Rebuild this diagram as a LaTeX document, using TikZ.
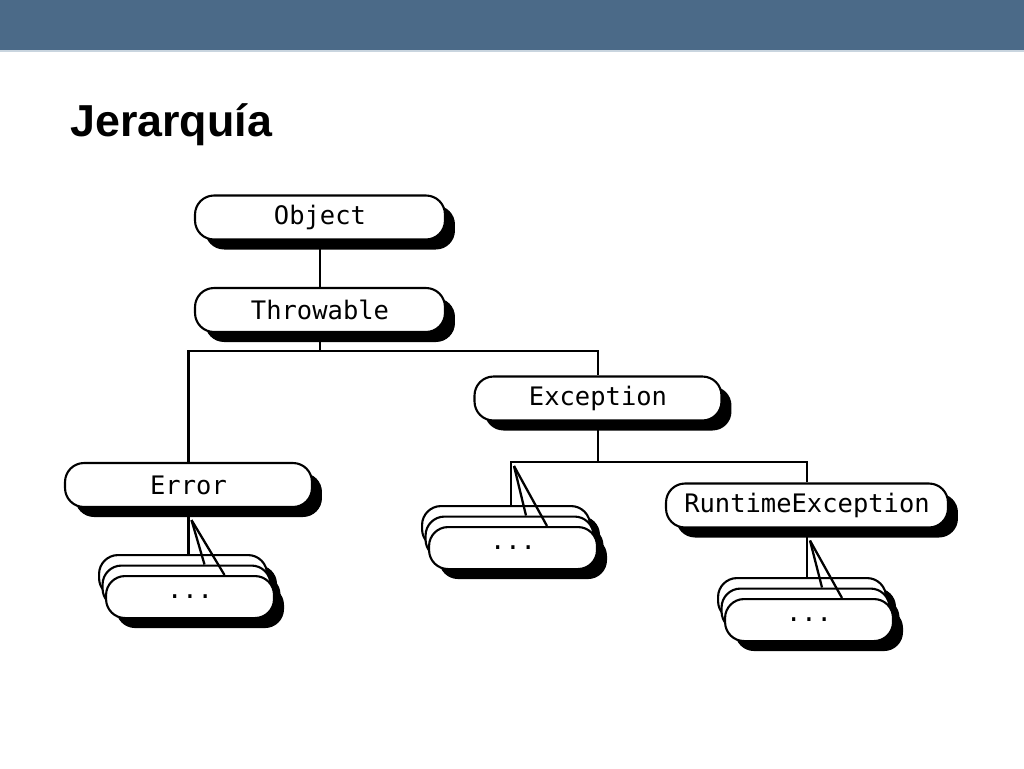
\documentclass[tikz,border=0pt]{standalone}
\usepackage{fontspec}
\setmainfont{Liberation Sans}
\setmonofont{DejaVu Sans Mono}
\usepackage{xcolor}
\usepackage{tikz}
\usetikzlibrary{calc,shadows}

\definecolor{barblue}{HTML}{4B6A88}
\definecolor{barline}{HTML}{C9D5DF}

\tikzset{
  cls/.style={draw, line width=1.2pt, fill=white, rounded corners=0.38cm,
    minimum height=0.88cm, inner sep=0pt,
    font=\ttfamily\fontsize{14.5}{16}\selectfont,
    drop shadow={shadow xshift=0.2cm, shadow yshift=-0.2cm, fill=black, opacity=1}},
  stk/.style={cls, minimum width=3.36cm, minimum height=0.84cm},
  link/.style={line width=1.3pt},
}

% three capsules, one behind the other: name, x, y of the back one
\newcommand{\dotstack}[3]{%
  \node[stk, anchor=north west] (#1-a) at (#2,#3) {};
  \node[stk, anchor=north west] (#1-b) at ($(#2,#3)+(3.5,10.5)$) {};
  \node[stk, anchor=north west] (#1-c) at ($(#2,#3)+(7,21)$) {...};
}

\begin{document}
\begin{tikzpicture}[x=0.02cm, y=-0.02cm]
    \useasboundingbox (0,0) rectangle (1024,768);

    % header bar
    \fill[barblue] (0,0) rectangle (1024,50);
    \fill[barline] (0,50) rectangle (1024,52);

    % title
    \node[anchor=base west, inner sep=0pt,
      font=\bfseries\fontsize{25.5}{30}\selectfont] (title) at (70,136) {Jerarquía};

    % classes
    \node[cls, minimum width=5cm] (obj) at (320,217.5) {Object};
    \node[cls, minimum width=5cm] (thr) at (320,310) {Throwable};
    \node[cls, minimum width=4.94cm] (exc) at (598,398.5) {Exception};
    \node[cls, minimum width=4.94cm] (err) at (188.5,485) {Error};
    \node[cls, minimum width=5.64cm] (rte) at (807,505.5) {RuntimeException};

    % subclasses not shown
    \dotstack{ers}{98}{554}
    \dotstack{exs}{421}{505}
    \dotstack{rts}{717}{577}

    % Object -- Throwable
    \draw[link] (obj.south) -- (thr.north);

    % Throwable -- Error, Exception
    \coordinate (tb) at ($(thr.south)+(0,18)$);
    \draw[link] (thr.south) -- (tb);
    \draw[link] (err.north) |- (tb) -| (exc.north);

    % Exception -- ..., RuntimeException
    \coordinate (exl) at (511,462);
    \draw[link] (exc.south) -- (exc.south |- exl);
    \draw[link] (rte.north) |- (exl) -- (exl |- exs-a.north);
    \draw[link] ($(exl)+(3,4)$) -- ($(exl |- exs-b.north)+(15,0)$);
    \draw[link] ($(exl)+(3,4)$) -- ($(exl |- exs-c.north)+(36,0)$);

    % Error -- ...
    \draw[link] (err.south) -- (err.south |- ers-a.north);
    \draw[link] ($(err.south)+(3,12)$) -- ($(err.south |- ers-b.north)+(16,0)$);
    \draw[link] ($(err.south)+(3,12)$) -- ($(err.south |- ers-c.north)+(36,0)$);

    % RuntimeException -- ...
    \draw[link] (rte.south) -- (rte.south |- rts-a.north);
    \draw[link] ($(rte.south)+(3,12)$) -- ($(rte.south |- rts-b.north)+(15,0)$);
    \draw[link] ($(rte.south)+(3,12)$) -- ($(rte.south |- rts-c.north)+(35,0)$);

\end{tikzpicture}
\end{document}
